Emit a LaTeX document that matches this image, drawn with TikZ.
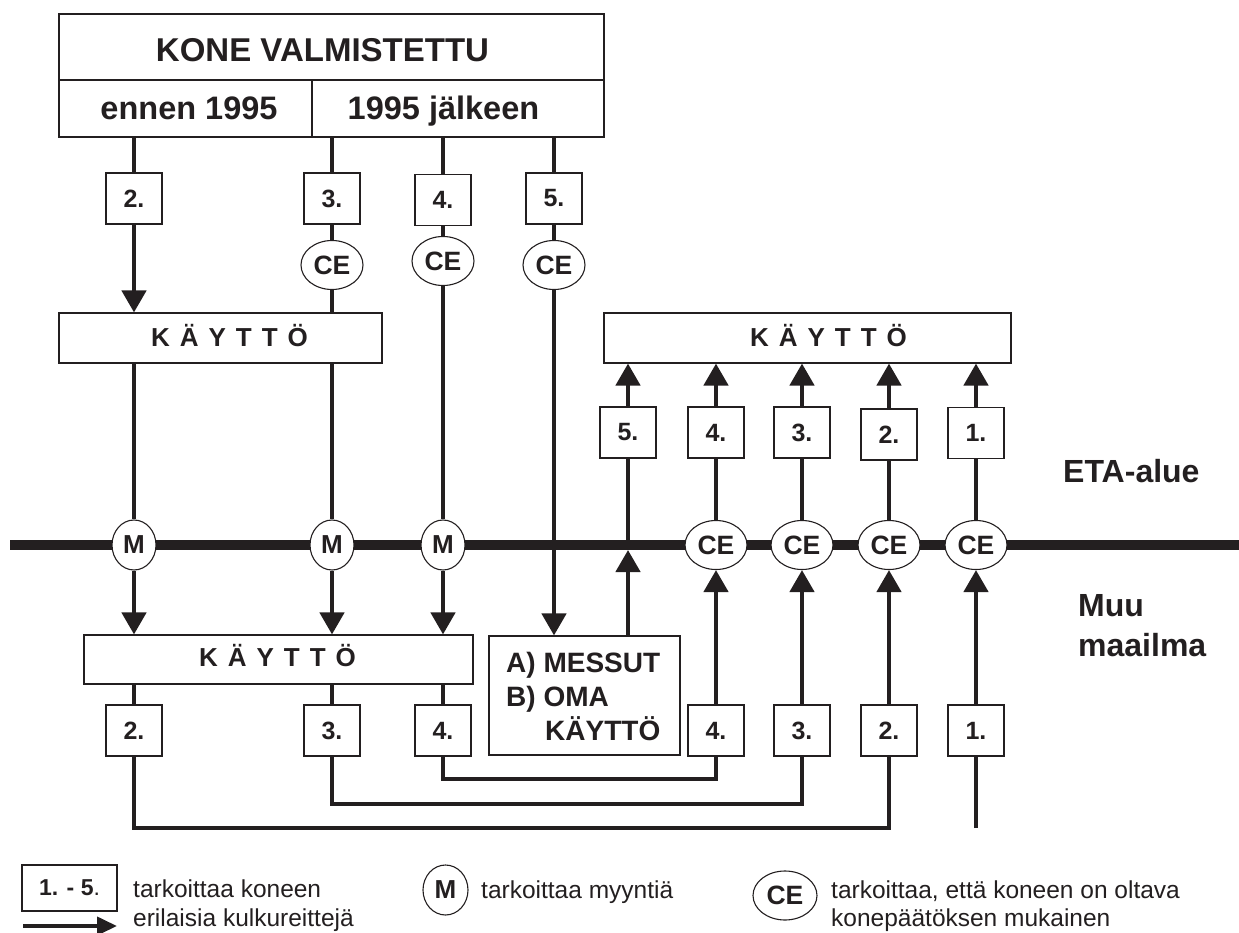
\documentclass[tikz,border=0pt]{standalone}
\usepackage{fontspec}
\setmainfont{Liberation Sans}
\usetikzlibrary{arrows.meta,shapes.geometric}
\pgfdeclarelayer{bg}
\pgfsetlayers{bg,main}
\definecolor{ink}{HTML}{231F20}
\newcommand\kayttoword{K\hspace{10pt}Ä\hspace{10pt}Y\hspace{10pt}T\hspace{10pt}T\hspace{10pt}Ö}
\begin{document}
\begin{tikzpicture}[x=1pt,y=-1pt,
  box/.style={draw=ink, line width=1.1pt, fill=white, inner sep=0pt, text=ink},
  numbox/.style={box, minimum width=56pt, minimum height=51pt, font=\fontsize{25}{30}\selectfont\bfseries},
  ceell/.style={ellipse, draw=ink, line width=1.1pt, fill=white, inner sep=0pt, text=ink, minimum width=62pt, minimum height=49pt, font=\fontsize{26.5}{30}\selectfont\bfseries},
  mell/.style={ellipse, draw=ink, line width=1.1pt, fill=white, inner sep=0pt, text=ink, minimum width=44pt, minimum height=50pt, font=\fontsize{26}{30}\selectfont\bfseries},
  txt/.style={inner sep=0pt, text=ink},
  kay/.style={txt, anchor=base, font=\fontsize{26}{30}\selectfont\bfseries},
  flow/.style={draw=ink, line width=4.5pt},
  arr/.style={flow, -{Triangle[width=24pt,length=22pt]}},
  legtxt/.style={txt, anchor=base west, font=\fontsize{24.5}{29}\selectfont}
]
\useasboundingbox (0,0) rectangle (1239,933);

% ---------- top header ----------
\node[box, minimum width=545pt, minimum height=66pt] (kone) at (331.5,47) {};
\node[box, minimum width=253pt, minimum height=57pt] (en) at (185.5,108.5) {};
\node[box, minimum width=292pt, minimum height=57pt] (ja) at (458,108.5) {};
\node[txt, anchor=base, font=\fontsize{33}{40}\selectfont\bfseries] (konet) at (322.5,62) {KONE VALMISTETTU};
\node[txt, anchor=base, font=\fontsize{32.5}{40}\selectfont\bfseries] (ent) at (189,120) {ennen 1995};
\node[txt, anchor=base, font=\fontsize{32.5}{40}\selectfont\bfseries] (jat) at (443.5,120) {1995 jälkeen};

% ---------- top row numbers and CE ----------
\node[numbox] (t2) at (134,198.5) {2.};
\node[numbox] (t3) at (332,198.5) {3.};
\node[numbox] (t4) at (443,200) {4.};
\node[numbox] (t5) at (554,198.5) {5.};
\node[ceell] (ce3) at (332,265) {CE};
\node[ceell] (ce4) at (443,261) {CE};
\node[ceell] (ce5) at (554,265) {CE};

% ---------- use boxes (upper) ----------
\node[box, minimum width=323pt, minimum height=50pt] (ku1) at (220.5,338) {};
\node[kay] (ku1t) at (229.5,346) {\kayttoword};
\node[box, minimum width=407pt, minimum height=50pt] (ku2) at (807.5,338) {};
\node[kay] (ku2t) at (828.5,346) {\kayttoword};

% ---------- right number row ----------
\node[numbox] (r5) at (628,432.5) {5.};
\node[numbox] (r4) at (716,432.5) {4.};
\node[numbox] (r3) at (802,432.5) {3.};
\node[numbox] (r2) at (889,434.5) {2.};
\node[numbox] (r1) at (976,433) {1.};

% ---------- region labels ----------
\node[txt, anchor=base west, font=\fontsize{32}{38}\selectfont\bfseries] (eta) at (1063,482) {ETA-alue};
\node[txt, anchor=base west, font=\fontsize{32}{38}\selectfont\bfseries] (muu) at (1078,616) {Muu};
\node[txt, anchor=base west, font=\fontsize{32}{38}\selectfont\bfseries] (maa) at (1078,656) {maailma};

% ---------- border line markers ----------
\node[mell] (m2) at (134,545) {M};
\node[mell] (m3) at (332,545) {M};
\node[mell] (m4) at (443,545) {M};
\node[ceell] (c4) at (716,545) {CE};
\node[ceell] (c3) at (802,545) {CE};
\node[ceell] (c2) at (889,545) {CE};
\node[ceell] (c1) at (976,545) {CE};

% ---------- lower boxes ----------
\node[box, minimum width=389pt, minimum height=49pt] (kl) at (278.5,659.5) {};
\node[kay] (klt) at (277.5,666) {\kayttoword};
\node[box, minimum width=191pt, minimum height=119pt] (mb) at (584.5,695.5) {};
\node[txt, anchor=base west, font=\fontsize{28}{34}\selectfont\bfseries] (mbA) at (506,672) {A) MESSUT};
\node[txt, anchor=base west, font=\fontsize{28}{34}\selectfont\bfseries] (mbB) at (506,706) {B) OMA};
\node[txt, anchor=base west, font=\fontsize{28}{34}\selectfont\bfseries] (mbC) at (545,740) {KÄYTTÖ};

\node[numbox] (lb2) at (134,730.5) {2.};
\node[numbox] (lb3) at (332,730.5) {3.};
\node[numbox] (lb4) at (443,730.5) {4.};
\node[numbox] (rb4) at (716,730.5) {4.};
\node[numbox] (rb3) at (802,730.5) {3.};
\node[numbox] (rb2) at (889,730.5) {2.};
\node[numbox] (rb1) at (976,730.5) {1.};

% ---------- legend ----------
\node[box, minimum width=95pt, minimum height=46pt, font=\fontsize{23}{28}\selectfont] (lg) at (69.5,888) {\textbf{1. - 5}.};
\coordinate (la) at (23,926);
\coordinate (lb) at (117,926);
\draw[draw=ink, line width=4pt, -{Triangle[width=18pt,length=20pt]}] (la) -- (lb);
\node[legtxt] (lt1) at (133,897) {tarkoittaa koneen};
\node[legtxt] (lt2) at (133,926) {erilaisia kulkureittejä};
\node[mell, minimum width=45pt] (lm) at (445.5,890) {M};
\node[legtxt] (lmt) at (481,898) {tarkoittaa myyntiä};
\node[ceell, minimum width=64pt] (lce) at (785,895.5) {CE};
\node[legtxt] (lct1) at (831,898) {tarkoittaa, että koneen on oltava};
\node[legtxt] (lct2) at (831,926) {konepäätöksen mukainen};

% ---------- connectors ----------
\coordinate (tl) at (10,545);
\coordinate (tr) at (1239,545);
\coordinate (y4) at (0,779);
\coordinate (y3) at (0,804);
\coordinate (y2) at (0,828);
\coordinate (e1) at (976,828);
\coordinate (a5) at (628,550);

\begin{pgfonlayer}{bg}
\draw[draw=ink, line width=10pt] (tl) -- (tr);
% route 2
\draw[flow] (en.south -| t2) -- (t2.north);
\draw[arr] (t2.south) -- (t2.south |- ku1.north);
\draw[flow] (ku1.south -| m2) -- (m2.north);
\draw[arr] (m2.south) -- (m2.south |- kl.north);
% route 3
\draw[flow] (ja.south -| t3) -- (t3.north);
\draw[flow] (t3.south) -- (ce3.north);
\draw[flow] (ce3.south) -- (ce3.south |- ku1.north);
\draw[flow] (ku1.south -| m3) -- (m3.north);
\draw[arr] (m3.south) -- (m3.south |- kl.north);
% route 4
\draw[flow] (ja.south -| t4) -- (t4.north);
\draw[flow] (t4.south) -- (ce4.north);
\draw[flow] (ce4.south) -- (m4.north);
\draw[arr] (m4.south) -- (m4.south |- kl.north);
% route 5
\draw[flow] (ja.south -| t5) -- (t5.north);
\draw[flow] (t5.south) -- (ce5.north);
\draw[arr] (ce5.south) -- (ce5.south |- mb.north);
\draw[arr] (mb.north -| a5) -- (a5);
\draw[flow] (a5) -- (r5.south);
\draw[arr] (r5.north) -- (r5.north |- ku2.south);
% lower left to number boxes
\draw[flow] (kl.south -| lb2) -- (lb2.north);
\draw[flow] (kl.south -| lb3) -- (lb3.north);
\draw[flow] (kl.south -| lb4) -- (lb4.north);
% bottom routes
\draw[flow] (lb4.south) -- (lb4.south |- y4) -- (rb4.south |- y4) -- (rb4.south);
\draw[flow] (lb3.south) -- (lb3.south |- y3) -- (rb3.south |- y3) -- (rb3.south);
\draw[flow] (lb2.south) -- (lb2.south |- y2) -- (rb2.south |- y2) -- (rb2.south);
\draw[flow] (e1) -- (rb1.south);
% up into EEA
\draw[arr] (rb4.north) -- (c4.south);
\draw[arr] (rb3.north) -- (c3.south);
\draw[arr] (rb2.north) -- (c2.south);
\draw[arr] (rb1.north) -- (c1.south);
\draw[flow] (c4.north) -- (r4.south);
\draw[flow] (c3.north) -- (r3.south);
\draw[flow] (c2.north) -- (r2.south);
\draw[flow] (c1.north) -- (r1.south);
\draw[arr] (r4.north) -- (r4.north |- ku2.south);
\draw[arr] (r3.north) -- (r3.north |- ku2.south);
\draw[arr] (r2.north) -- (r2.north |- ku2.south);
\draw[arr] (r1.north) -- (r1.north |- ku2.south);
\end{pgfonlayer}
\end{tikzpicture}
\end{document}
